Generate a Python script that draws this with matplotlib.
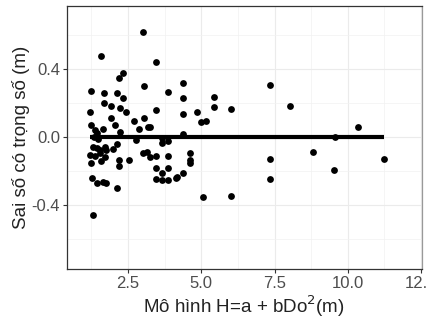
import numpy as np
import matplotlib
matplotlib.use("Agg")
import matplotlib.pyplot as plt

plt.rcParams['font.family'] = ['Liberation Sans', 'DejaVu Sans']

# giá trị dự đoán (m) và sai số có trọng số (m)
x_pred = [1.60, 3.02, 3.45, 2.34, 2.20, 3.05, 4.38, 1.23, 1.68, 2.13,
          2.32, 3.87, 4.38, 5.43, 5.43, 1.68, 1.94, 2.23, 2.45, 1.20,
          3.45, 4.38, 4.86, 4.98, 5.18, 1.91, 2.70, 3.04, 2.06, 2.88,
          3.19, 3.25, 1.23, 1.37, 1.64, 2.23, 4.38, 1.35, 1.44, 1.48,
          2.77, 3.68, 3.87, 3.65, 1.32, 1.43, 1.54, 1.71, 1.77, 2.00,
          2.13, 1.20, 1.37, 1.54, 1.71, 1.23, 1.60, 2.20, 2.20, 2.54,
          3.00, 3.14, 3.27, 3.45, 3.87, 4.61, 4.61, 4.61, 3.45, 3.87,
          3.65, 3.45, 3.65, 3.87, 4.14, 4.16, 4.38, 1.26, 1.45, 1.64,
          1.77, 2.13, 5.05, 1.30, 7.34, 8.02, 6.03, 10.35, 9.56, 8.80,
          7.34, 11.23, 7.34, 6.03, 9.53]
resid = [0.475, 0.618, 0.441, 0.378, 0.345, 0.300, 0.314, 0.270, 0.255, 0.259,
         0.229, 0.265, 0.226, 0.235, 0.176, 0.196, 0.180, 0.167, 0.145, 0.145,
         0.157, 0.134, 0.147, 0.088, 0.092, 0.108, 0.092, 0.108, 0.069, 0.045,
         0.055, 0.055, 0.069, 0.039, 0.044, 0.029, 0.014, 0.000, 0.020, -0.013,
         -0.019, -0.009, -0.024, -0.039, -0.059, -0.068, -0.078, -0.059, -0.078, -0.074,
         -0.043, -0.108, -0.114, -0.098, -0.121, -0.156, -0.143, -0.137, -0.172, -0.137,
         -0.098, -0.088, -0.121, -0.114, -0.114, -0.094, -0.137, -0.153, -0.186, -0.186,
         -0.215, -0.251, -0.255, -0.255, -0.245, -0.235, -0.212, -0.245, -0.271, -0.265,
         -0.271, -0.304, -0.353, -0.461, 0.304, 0.181, 0.163, 0.059, -0.004, -0.088,
         -0.129, -0.133, -0.251, -0.347, -0.196]

x_ticks = [2.5, 5.0, 7.5, 10.0, 12.5]
y_ticks = [-0.4, 0.0, 0.4]

fig = plt.figure(figsize=(4.26, 3.22), dpi=100)
ax = fig.add_axes([0.157, 0.165, 0.833, 0.816])

ax.scatter(x_pred, resid, s=24, color='black', zorder=3, linewidths=0)
ax.hlines(0, min(x_pred), max(x_pred), color='black', linewidth=3, zorder=4)

ax.set_xlim(0.42, 12.52)
ax.set_ylim(-0.778, 0.769)
ax.set_xticks(x_ticks)
ax.set_xticklabels(['2.5', '5.0', '7.5', '10.0', '12.5'])
ax.set_yticks(y_ticks)
ax.set_yticklabels(['-0.4', '0.0', '0.4'])
ax.set_xticks([1.25, 3.75, 6.25, 8.75, 11.25], minor=True)
ax.set_yticks([-0.6, -0.2, 0.2, 0.6], minor=True)
ax.tick_params(which='minor', length=0)
ax.tick_params(which='major', length=3, color='#333333', labelsize=12,
               labelcolor='#4D4D4D', pad=2)

ax.grid(which='major', color='#EBEBEB', linewidth=0.8)
ax.grid(which='minor', color='#F2F2F2', linewidth=0.5)
ax.set_axisbelow(True)
for sp in ax.spines.values():
    sp.set_color('#333333')
    sp.set_linewidth(0.9)
ax.spines['right'].set_color('#999999')

ax.set_xlabel('Mô hình H=a + bDo$^2$(m)', fontsize=13.5, color='#222222', labelpad=2)
ax.set_ylabel('Sai số có trọng số (m)', fontsize=13.5, color='#222222', labelpad=1)

fig.savefig('out.png', dpi=100)
